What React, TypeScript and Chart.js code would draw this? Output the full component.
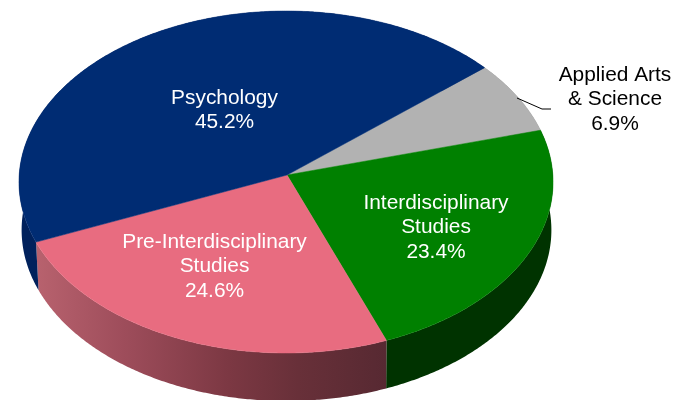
import React, { useEffect, useRef } from "react";
import { Chart, registerables } from "chart.js";

Chart.register(...registerables);

const categories = ["Applied Arts & Science", "Interdisciplinary Studies", "Pre-Interdisciplinary Studies", "Psychology"];
const values = [6.9, 23.4, 24.6, 45.2];
const labelLines = [["Applied Arts", "& Science"], ["Interdisciplinary", "Studies"], ["Pre-Interdisciplinary", "Studies"], ["Psychology"]];
const topColors = ["#B2B2B2", "#008000", "#E86C80", "#002C73"];
const labelColors = ["#000000", "#FFFFFF", "#FFFFFF", "#FFFFFF"];
const labelCenters = [[615, 81], [436, 209], [214.5, 248], [224.5, 104]];

const ROTATION = 49.8;
const SX = 266.8;
const SY = 170.7;
const PERSPECTIVE = 0.041;
const DEPTH = 48;
const BOTTOM_SCALE = 0.992;
const RIM_SHIFT = -1;
const BOTTOM_SHIFT = 0.5;
const FONT = '20.9px "Liberation Sans", Arial, sans-serif';
const LINE_H = 24.3;

function rim(arc: any, angle: number, bottom: boolean): [number, number] {
  const u = Math.cos(angle);
  const v = Math.sin(angle);
  const w = 1 - PERSPECTIVE * v;
  const s = bottom ? BOTTOM_SCALE : 1;
  return [
    arc.x + RIM_SHIFT + (bottom ? BOTTOM_SHIFT : 0) + (SX * s * u) / w,
    arc.y + (SY * v) / w + (bottom ? DEPTH : 0),
  ];
}

function rimPoints(arc: any, bottom: boolean): [number, number][] {
  const pts: [number, number][] = [];
  const n = Math.max(8, Math.ceil(((arc.endAngle - arc.startAngle) * 180) / Math.PI) * 2);
  for (let i = 0; i <= n; i++) {
    pts.push(rim(arc, arc.startAngle + ((arc.endAngle - arc.startAngle) * i) / n, bottom));
  }
  return pts;
}

function wallFill(ctx: CanvasRenderingContext2D, index: number) {
  if (index === 0) return "#808080";
  if (index === 1) return "#003300";
  if (index === 3) return "#00215C";
  const g = ctx.createLinearGradient(36, 0, 386, 0);
  g.addColorStop(0, "#B8626E");
  g.addColorStop(0.25, "#9E4D5B");
  g.addColorStop(0.55, "#7C3843");
  g.addColorStop(0.75, "#683039");
  g.addColorStop(1, "#572932");
  return g;
}

const pie3d = {
  id: "pie3d",
  afterDatasetsUpdate(chart: any) {
    chart.getDatasetMeta(0).data.forEach((arc: any) => {
      arc.draw = (ctx: CanvasRenderingContext2D) => {
        ctx.save();
        ctx.beginPath();
        ctx.moveTo(arc.x, arc.y);
        rimPoints(arc, false).forEach(([x, y]) => ctx.lineTo(x, y));
        ctx.closePath();
        ctx.fillStyle = arc.options.backgroundColor;
        ctx.strokeStyle = arc.options.backgroundColor;
        ctx.lineWidth = 0.5;
        ctx.lineJoin = "round";
        ctx.fill();
        ctx.stroke();
        ctx.restore();
      };
    });
  },
  beforeDatasetsDraw(chart: any) {
    const ctx: CanvasRenderingContext2D = chart.ctx;
    chart.getDatasetMeta(0).data.forEach((arc: any, i: number) => {
      const top = rimPoints(arc, false);
      const bottom = rimPoints(arc, true).reverse();
      ctx.save();
      ctx.beginPath();
      top.concat(bottom).forEach(([x, y], k) => (k ? ctx.lineTo(x, y) : ctx.moveTo(x, y)));
      ctx.closePath();
      ctx.fillStyle = wallFill(ctx, i);
      ctx.fill();
      ctx.restore();
    });
  },
  afterDatasetsDraw(chart: any) {
    const ctx: CanvasRenderingContext2D = chart.ctx;
    ctx.save();
    ctx.beginPath();
    ctx.moveTo(517, 98);
    ctx.lineTo(542, 109);
    ctx.lineTo(551, 109);
    ctx.strokeStyle = "#000000";
    ctx.lineWidth = 1;
    ctx.stroke();
    ctx.font = FONT;
    ctx.textAlign = "center";
    ctx.textBaseline = "alphabetic";
    labelLines.forEach((lines, i) => {
      ctx.fillStyle = labelColors[i];
      const [x, y] = labelCenters[i];
      [...lines, values[i].toFixed(1) + "%"].forEach((t, k) => ctx.fillText(t, x, y + k * LINE_H));
    });
    ctx.restore();
  },
};

export default function App() {
  const ref = useRef<HTMLCanvasElement>(null);
  useEffect(() => {
    document.body.style.margin = "0";
    const chart = new Chart(ref.current!, {
      type: "pie",
      data: {
        labels: categories,
        datasets: [{ data: values, backgroundColor: topColors, borderWidth: 0, clip: false as any }],
      },
      options: {
        animation: false,
        responsive: false,
        events: [],
        rotation: ROTATION,
        layout: { padding: { left: 0, top: 0, right: 116, bottom: 50 } },
        plugins: { legend: { display: false }, tooltip: { enabled: false } },
      },
      plugins: [pie3d as any],
    });
    return () => chart.destroy();
  }, []);
  return (
    <canvas
      ref={ref}
      width={690}
      height={400}
      style={{ position: "absolute", left: 0, top: 0, width: 690, height: 400, display: "block" }}
    />
  );
}
